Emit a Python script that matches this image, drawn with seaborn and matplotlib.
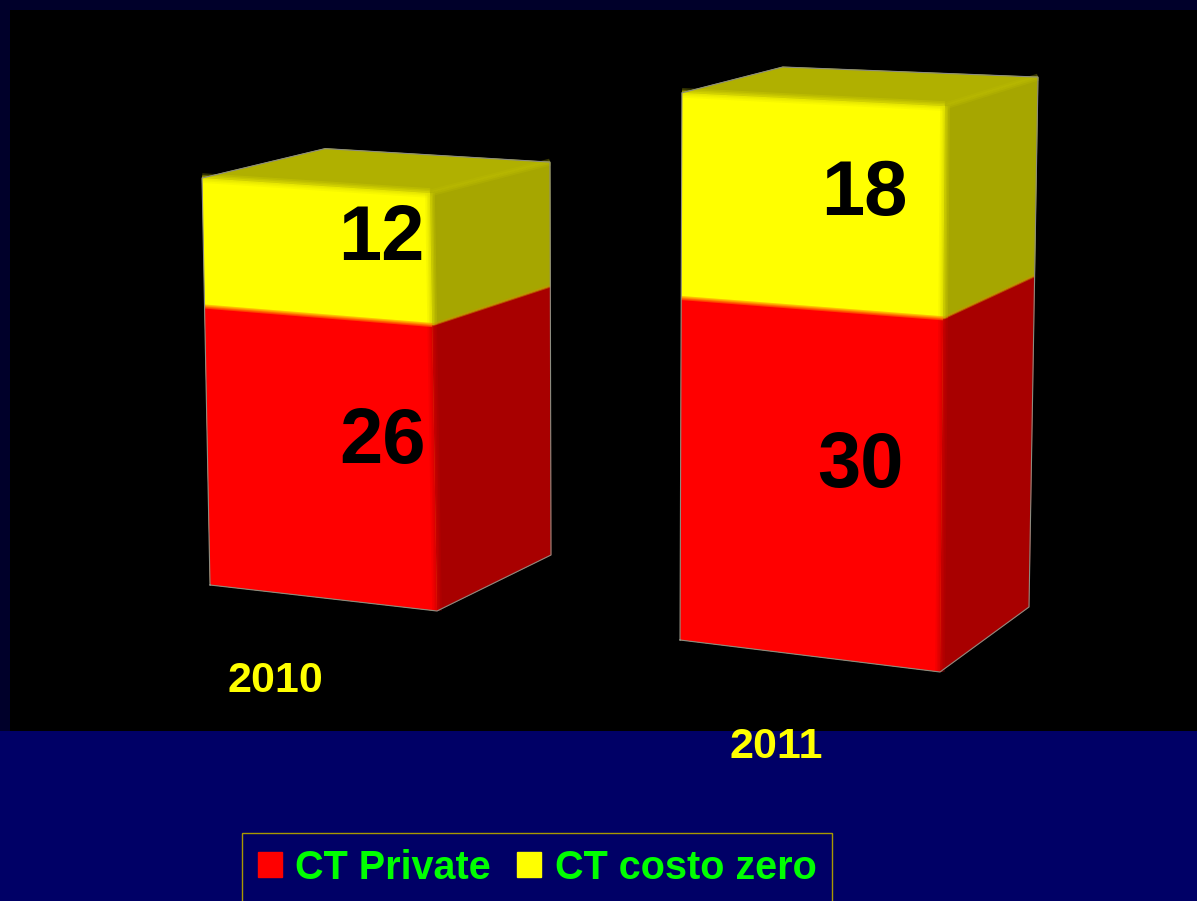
import numpy as np
import matplotlib
matplotlib.use('Agg')
import matplotlib.pyplot as plt
import matplotlib.transforms as mtrans
from matplotlib.patches import Polygon, Rectangle, Patch
import seaborn as sns

years = ['2010', '2011']
ct_private = [26, 30]
ct_costo_zero = [12, 18]
series_names = ['CT Private', 'CT costo zero']

RED, RED_SIDE = '#ff0000', '#a80000'
YEL, YEL_SIDE, YEL_TOP = '#ffff00', '#a6a600', '#b0b000'
NAVY, STRIP = '#000066', '#00002a'
W, H = 1197, 901
BAR_W = 0.8

# perspective of each box: edge foot in pixels and pixel step per unit of value
FOOT = {'fl': [(210, 585), (680, 640)], 'fr': [(437, 611), (940, 672)],
        'br': [(551, 555), (1029, 607)], 'bl': [(329, 540), (778, 595)]}
STEP = {'fl': [(-.21, -10.71), (.04, -11.40)], 'fr': [(-.184, -11.0), (.104, -11.79)],
        'br': [(-.026, -10.34), (.1875, -11.04)], 'bl': [(-.1, -10.3), (.1, -11.0)]}


def pt(i, edge, v):
    return np.array(FOOT[edge][i]) + v * np.array(STEP[edge][i])


class BoxFront(mtrans.Transform):
    # turns an upright seaborn bar into the slanted front face of the box
    input_dims = output_dims = 2

    def __init__(self, i):
        super().__init__()
        self.i = i

    def transform_non_affine(self, xy):
        xy = np.asarray(xy, dtype=float)
        t = ((xy[:, 0] - (self.i - BAR_W / 2)) / BAR_W)[:, None]
        v = xy[:, 1][:, None]
        fl0, fr0 = np.array(FOOT['fl'][self.i]), np.array(FOOT['fr'][self.i])
        fls, frs = np.array(STEP['fl'][self.i]), np.array(STEP['fr'][self.i])
        return (1 - t) * (fl0 + v * fls) + t * (fr0 + v * frs)


plt.rcParams['font.family'] = ['Liberation Sans', 'DejaVu Sans']
fig = plt.figure(figsize=(W / 100, H / 100), dpi=100, facecolor=NAVY)
ax = fig.add_axes([0, 0, 1, 1])
px = mtrans.Affine2D().scale(1, -1).translate(0, H)

total = [a + b for a, b in zip(ct_private, ct_costo_zero)]

sns.barplot(x=years, y=total, color=YEL, saturation=1, width=BAR_W, ax=ax, zorder=3)
sns.barplot(x=years, y=ct_private, color=RED, saturation=1, width=BAR_W, ax=ax, zorder=4)
ax.set_axis_off()

for bar in ax.patches:
    i = int(round(bar.get_x() + bar.get_width() / 2))
    bar.set_transform(BoxFront(i) + px)
    bar.set_clip_on(False)
    bar.set_linewidth(0)

ax.add_patch(Rectangle((0, 0), W, 10, color=STRIP, transform=px, lw=0, zorder=0))
ax.add_patch(Rectangle((0, 0), 10, 731, color=STRIP, transform=px, lw=0, zorder=0))
ax.add_patch(Rectangle((10, 10), W - 10, 721, color='black', transform=px, lw=0, zorder=0))


def face(points, color, z=2):
    ax.add_patch(Polygon(points, closed=True, facecolor=color, edgecolor=color, lw=0.5,
                         transform=px, zorder=z, clip_on=False))


def soft(p0, p1, color, z=5, widths=((7, .22), (4.5, .3), (2.5, .45))):
    for lw, alpha in widths:
        ax.plot([p0[0], p1[0]], [p0[1], p1[1]], color=color, lw=lw, alpha=alpha,
                transform=px, zorder=z, solid_capstyle='butt', clip_on=False)


for i in range(len(years)):
    r, t = ct_private[i], total[i]
    face([pt(i, 'fr', 0), pt(i, 'br', 0), pt(i, 'br', r), pt(i, 'fr', r)], RED_SIDE)
    face([pt(i, 'fr', r), pt(i, 'br', r), pt(i, 'br', t), pt(i, 'fr', t)], YEL_SIDE)
    face([pt(i, 'fl', t), pt(i, 'bl', t), pt(i, 'br', t), pt(i, 'fr', t)], YEL_TOP)

    # soft bevels between the faces
    soft(pt(i, 'fr', 0), pt(i, 'fr', r), '#d00000')
    soft(pt(i, 'fr', r), pt(i, 'fr', t), '#d8d800')
    soft(pt(i, 'fl', t), pt(i, 'fr', t), '#e0e000')
    soft(pt(i, 'fr', t), pt(i, 'br', t), '#bcbc00', widths=((5, .3), (2.5, .4)))
    soft(pt(i, 'fl', r), pt(i, 'fr', r), '#ff8000', widths=((3, .5), (1.5, .6)))
    soft(pt(i, 'fr', r), pt(i, 'br', r), '#d09000', widths=((2, .5),))

    # thin grey rim round the whole box
    rim = np.array([pt(i, 'fl', 0), pt(i, 'fr', 0), pt(i, 'br', 0), pt(i, 'br', t),
                    pt(i, 'bl', t), pt(i, 'fl', t), pt(i, 'fl', 0)])
    ax.plot(rim[:, 0], rim[:, 1], color='#8c8c80', lw=0.8, transform=px, zorder=6, clip_on=False)

# value labels, pixel positions of the original slide
value_xy = [[(381, 232), (382, 435)], [(864, 186), (860, 459)]]
for i in range(len(years)):
    for val, xy in zip([ct_costo_zero[i], ct_private[i]], value_xy[i]):
        ax.text(xy[0], xy[1], str(val), transform=px, ha='center', va='center_baseline',
                fontsize=56, fontweight='bold', color='black', zorder=8)

year_xy = [(275, 677), (776, 742)]
for y, xy in zip(years, year_xy):
    ax.text(xy[0], xy[1], y, transform=px, ha='center', va='center_baseline',
            fontsize=31, fontweight='bold', color=YEL, zorder=8)

handles = [Patch(facecolor=RED, edgecolor=RED, label=series_names[0]),
           Patch(facecolor=YEL, edgecolor=YEL, label=series_names[1])]
leg = ax.legend(handles=handles, loc='upper left', bbox_to_anchor=(242 / W, 1 - 833 / H),
                bbox_transform=fig.transFigure, ncol=2, frameon=True, fancybox=False,
                facecolor=NAVY, edgecolor='#a89800', framealpha=1, borderaxespad=0, borderpad=0.4,
                handlelength=0.6, handleheight=0.6, handletextpad=0.35, columnspacing=0.65,
                labelcolor='#00ff00', prop={'weight': 'bold', 'size': 28.5})
leg.set_zorder(9)
leg.set_clip_on(False)

fig.savefig('out.png', dpi=100, facecolor=NAVY)
